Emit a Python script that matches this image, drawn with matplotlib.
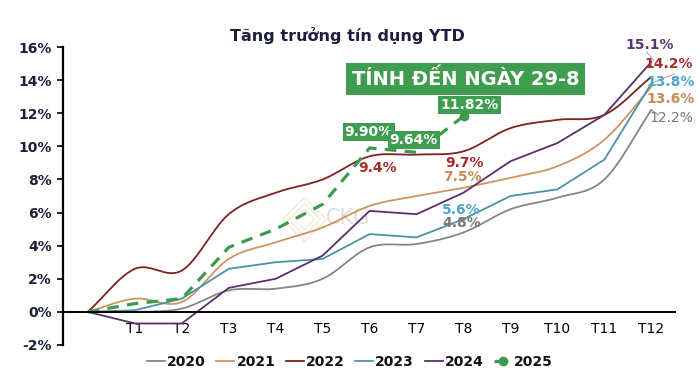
import numpy as np
import matplotlib
matplotlib.use("Agg")
import matplotlib.pyplot as plt

# ---------------- data ----------------
months = ["", "T1", "T2", "T3", "T4", "T5", "T6", "T7", "T8", "T9", "T10", "T11", "T12"]
y2020 = [0, 0.0, 0.2, 1.3, 1.4, 2.0, 3.9, 4.1, 4.8, 6.2, 6.9, 8.0, 12.2]
y2021 = [0, 0.8, 0.6, 3.2, 4.2, 5.1, 6.4, 7.0, 7.5, 8.1, 8.8, 10.4, 13.6]
y2022 = [0, 2.6, 2.5, 5.9, 7.2, 8.0, 9.4, 9.5, 9.7, 11.1, 11.6, 11.9, 14.2]
y2023 = [0, 0.1, 0.8, 2.6, 3.0, 3.2, 4.7, 4.5, 5.6, 7.0, 7.4, 9.2, 13.8]
y2024 = [0, -0.7, -0.7, 1.45, 2.0, 3.4, 6.1, 5.9, 7.2, 9.1, 10.2, 11.9, 15.1]
y2025 = [0, 0.5, 0.8, 3.9, 5.0, 6.5, 9.90, 9.64, 11.82]
yticks = [-2, 0, 2, 4, 6, 8, 10, 12, 14, 16]
title = "Tăng trưởng tín dụng YTD"
banner = "TÍNH ĐẾN NGÀY 29-8"

NAVY = "#1c1f3d"
C20, C21, C22 = "#858585", "#cf9460", "#7f2222"
C23, C24, C25 = "#4b93a4", "#5a2f6b", "#3d9a52"


def smooth(xs, ys, n=24):
    """Catmull-Rom curve through the data points (Excel-like smoothed line)."""
    p = np.column_stack([xs, ys]).astype(float)
    p = np.vstack([2 * p[0] - p[1], p, 2 * p[-1] - p[-2]])
    out = []
    t = np.linspace(0, 1, n, endpoint=False)[:, None]
    for i in range(1, len(p) - 2):
        p0, p1, p2, p3 = p[i - 1], p[i], p[i + 1], p[i + 2]
        seg = 0.5 * ((2 * p1) + (-p0 + p2) * t + (2 * p0 - 5 * p1 + 4 * p2 - p3) * t ** 2
                     + (-p0 + 3 * p1 - 3 * p2 + p3) * t ** 3)
        out.append(seg)
    out.append(p[-2][None, :])
    a = np.vstack(out)
    return a[:, 0], a[:, 1]


fig = plt.figure(figsize=(7, 3.85), dpi=100)
ax = fig.add_axes([0.09, 0.1039, 0.874, 0.774])

x = np.arange(len(months))
for ys, c, lab, sm in [(y2020, C20, "2020", True), (y2021, C21, "2021", True),
                       (y2022, C22, "2022", True), (y2023, C23, "2023", False),
                       (y2024, C24, "2024", False)]:
    if sm:
        sx, sy = smooth(x, ys)
    else:
        sx, sy = x, ys
    ax.plot(sx, sy, color=c, lw=1.3, label=lab, solid_joinstyle="round")

x25 = np.arange(len(y2025))
ax.plot(x25, y2025, color=C25, lw=2.3, dashes=(3.6, 2.6), label="2025",
        marker="o", markevery=[len(y2025) - 1], markersize=6)

ax.set_xlim(-0.53, 12.5)
ax.set_ylim(-2, 16)
ax.set_yticks(yticks)
ax.set_yticklabels([f"{v}%" for v in yticks], fontsize=10, fontweight="bold", color=NAVY)
ax.set_xticks(x[1:])
ax.set_xticklabels(months[1:], fontsize=10, fontweight="bold", color=NAVY)
ax.tick_params(axis="x", length=0, pad=7)
ax.tick_params(axis="y", length=4, width=1.2, direction="out", pad=4)
for s in ["top", "right"]:
    ax.spines[s].set_visible(False)
ax.spines["bottom"].set_position(("data", 0))
ax.spines["bottom"].set_linewidth(1.4)
ax.spines["left"].set_linewidth(1.6)
ax.spines["left"].set_bounds(-2, 16)

# watermark
ax.text(5.55, 5.7, "CKG", fontsize=15, color="#dcdcdc", ha="center", va="center", zorder=0)
for ms in [22, 16, 10]:
    ax.plot([4.6], [5.6], marker="D", markersize=ms, markerfacecolor="none",
            markeredgecolor="#f3ead8", markeredgewidth=1.0, zorder=0)

# end-of-year labels
bold = dict(fontsize=10, fontweight="bold")
ax.text(11.96, 16.1, "15.1%", color="#54396f", ha="center", va="center", **bold)
ax.text(11.85, 15.0, "14.2%", color="#a62d2d", ha="left", va="center", **bold)
ax.text(11.9, 13.9, "13.8%", color="#4ca6cc", ha="left", va="center", **bold)
ax.text(11.9, 12.85, "13.6%", color="#c98a52", ha="left", va="center", **bold)
ax.text(11.97, 11.7, "12.2%", color="#777777", ha="left", va="center",
        fontsize=10)
ax.plot([12.0, 12.15], [12.2, 11.9], color="#888888", lw=0.7)
ax.plot([12.0, 12.6], [13.8, 14.5], color="#c98a52", lw=0.6)
ax.plot([11.9, 12.05], [15.7, 15.2], color="#a08aa8", lw=0.6)

# T6 / T8 labels
ax.text(6.17, 8.67, "9.4%", color="#a62d2d", ha="center", va="center", **bold)
ax.text(8.02, 8.97, "9.7%", color="#a62d2d", ha="center", va="center", **bold)
ax.text(7.98, 8.12, "7.5%", color="#c98a52", ha="center", va="center", **bold)
ax.text(7.96, 6.18, "5.6%", color="#4ca6cc", ha="center", va="center", **bold)
ax.text(7.96, 5.39, "4.8%", color="#777777", ha="center", va="center", **bold)

# 2025 boxed labels
box = dict(boxstyle="square,pad=0.15", fc="#3f9d50", ec="none")
ax.text(5.98, 10.85, "9.90%", color="white", ha="center", va="center", bbox=box, **bold)
ax.text(6.94, 10.36, "9.64%", color="white", ha="center", va="center", bbox=box, **bold)
ax.text(8.13, 12.48, "11.82%", color="white", ha="center", va="center", bbox=box, **bold)

ax.text(8.04, 14.06, banner, color="white", ha="center", va="center", fontsize=14,
        fontweight="bold", bbox=dict(boxstyle="square,pad=0.3", fc="#3f9d50", ec="none"))

fig.text(0.497, 0.909, title, ha="center", va="center", fontsize=11.5,
         fontweight="bold", color=NAVY)

leg = fig.legend(loc="center", bbox_to_anchor=(0.5, 0.06), ncol=6, frameon=False,
                 handlelength=1.3, handletextpad=0.15, columnspacing=0.75,
                 prop=dict(size=10, weight="bold"))
for t in leg.get_texts():
    t.set_color("#111111")

fig.savefig("out.png", dpi=100)
